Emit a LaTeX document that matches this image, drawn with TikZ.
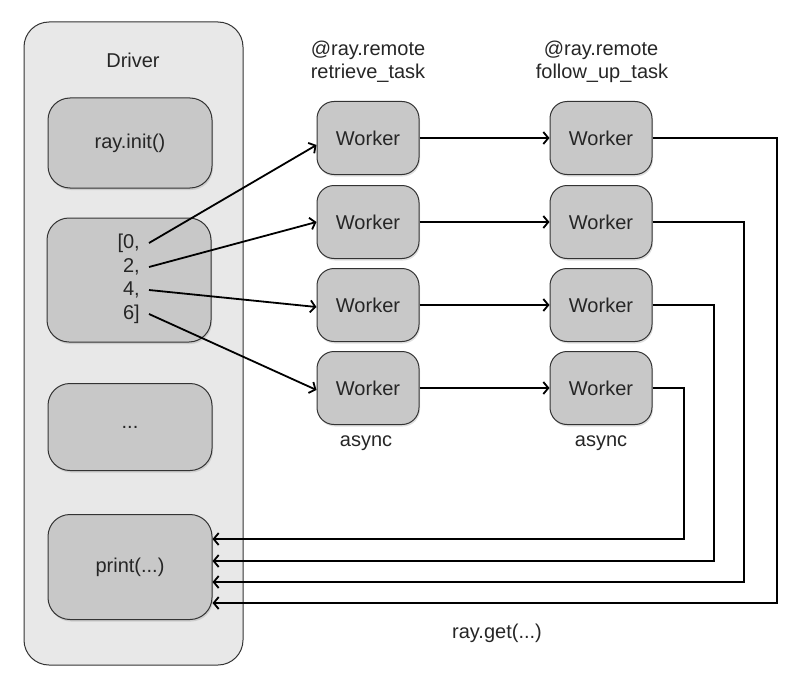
\documentclass[tikz,border=0pt]{standalone}
\usepackage{fontspec}
\setmainfont{Liberation Sans}
\usetikzlibrary{arrows.meta,shadows}
\definecolor{contgray}{HTML}{E8E8E8}
\definecolor{boxgray}{HTML}{C8C8C8}
\definecolor{edgegray}{HTML}{333333}
\begin{document}
\begin{tikzpicture}[x=1pt,y=-1pt,
  every node/.style={font=\fontsize{20}{23}\selectfont, text=black!85},
  container/.style={draw=edgegray, fill=contgray, line width=1pt, rounded corners=25pt,
    minimum width=219pt, minimum height=643pt},
  drvbox/.style={draw=edgegray, fill=boxgray, line width=1pt, rounded corners=22pt,
    minimum width=164pt, drop shadow={opacity=0.25, shadow xshift=1pt, shadow yshift=-2pt}},
  worker/.style={draw=edgegray, fill=boxgray, line width=1pt, rounded corners=17pt,
    minimum width=102pt, minimum height=73pt, drop shadow={opacity=0.25, shadow xshift=1pt, shadow yshift=-2pt}},
  lbl/.style={inner sep=0pt},
  arr/.style={line width=1.8pt, -{Straight Barb[length=5pt,width=12pt]}}
]
\useasboundingbox (0,0) rectangle (802,690);

% driver container
\node[container] (driver) at (133.5,343.5) {};
\node[lbl] (drvlabel) at (133,60) {Driver};

% driver boxes
\node[drvbox, minimum height=90pt] (init) at (130,143) {ray.init()};
\node[drvbox, minimum height=124pt] (list) at (129,280) {};
\node[lbl, anchor=east] (l0) at (140,243) {[0,};
\node[lbl, anchor=east] (l2) at (140,267) {2,};
\node[lbl, anchor=east] (l4) at (140,290) {4,};
\node[lbl, anchor=east] (l6) at (140,314) {6]};
\node[drvbox, minimum height=87pt] (dots) at (130,427) {...};
\node[drvbox, minimum height=105pt] (print) at (130,567) {print(...)};

% column labels
\node[lbl] (rem1) at (368,50) {@ray.remote};
\node[lbl] (task1) at (368,73) {retrieve\_task};
\node[lbl] (rem2) at (601,50) {@ray.remote};
\node[lbl] (task2) at (602,73) {follow\_up\_task};

% workers
\foreach \r/\yy in {1/138,2/222,3/305,4/388}{
  \node[worker] (wa\r) at (368,\yy) {Worker};
  \node[worker] (wb\r) at (601,\yy) {Worker};
}

\node[lbl] (async1) at (366,443) {async};
\node[lbl] (async2) at (601,443) {async};
\node[lbl] (rayget) at (497,633) {ray.get(...)};

% list to first column
\draw[arr] ([xshift=9pt]l0.east) -- ([yshift=-7pt]wa1.west);
\draw[arr] ([xshift=9pt]l2.east) -- (wa2.west);
\draw[arr] ([xshift=9pt]l4.east) -- ([yshift=-2pt]wa3.west);
\draw[arr] ([xshift=9pt]l6.east) -- ([yshift=-2pt]wa4.west);

% first to second column
\foreach \r in {1,2,3,4}{
  \draw[arr] (wa\r.east) -- (wb\r.west);
}

% return paths
\coordinate (c1) at (777,603);
\coordinate (c2) at (744,582);
\coordinate (c3) at (714,561);
\coordinate (c4) at (684,539);
\foreach \r in {1,2,3,4}{
  \draw[arr] (wb\r.east) -| (c\r) -- (print.east |- c\r);
}
\end{tikzpicture}
\end{document}
